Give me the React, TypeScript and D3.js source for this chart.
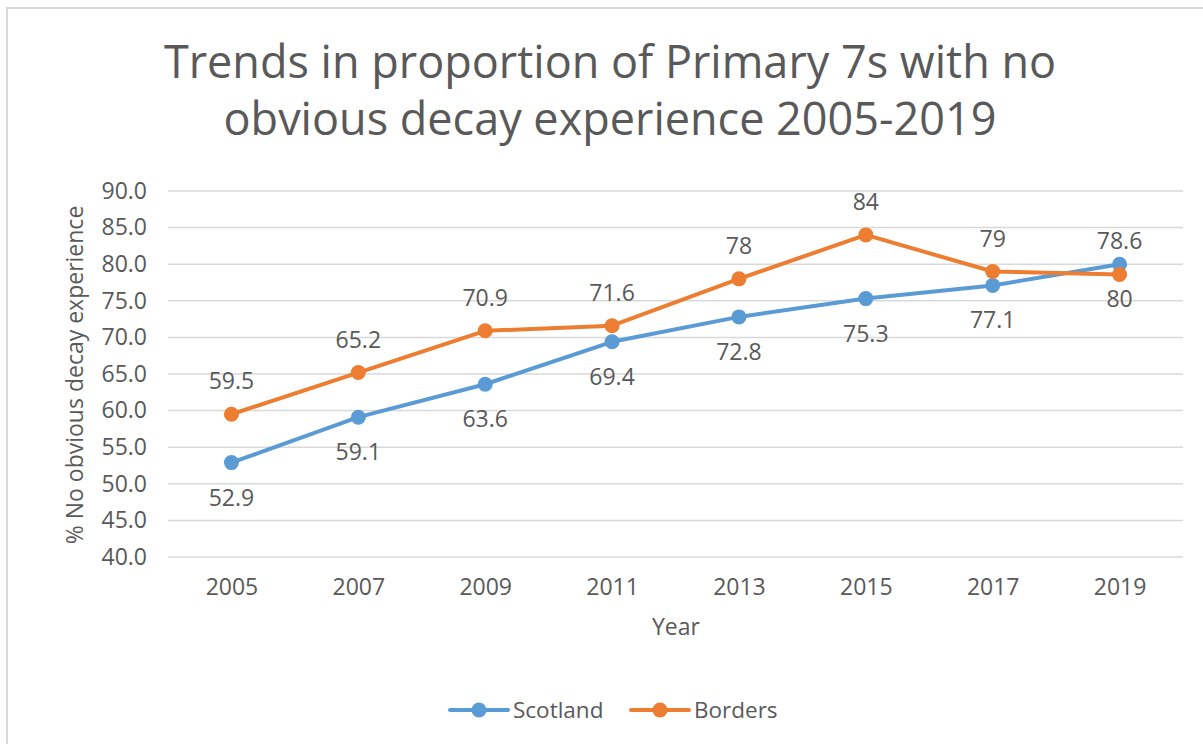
import React, { useEffect, useRef } from 'react';
import * as d3 from 'd3';

const years = ['2005', '2007', '2009', '2011', '2013', '2015', '2017', '2019'];
const scotland = [52.9, 59.1, 63.6, 69.4, 72.8, 75.3, 77.1, 80];
const borders = [59.5, 65.2, 70.9, 71.6, 78, 84, 79, 78.6];
const yTicks = [40, 45, 50, 55, 60, 65, 70, 75, 80, 85, 90];
const titleLines = [
  'Trends in proportion of Primary 7s with no',
  'obvious decay experience 2005-2019',
];

const FONT = '"Open Sans", "Noto Sans", sans-serif';
const TEXT = '#595959';

export default function App() {
  const ref = useRef<SVGSVGElement>(null);

  useEffect(() => {
    const svg = d3.select(ref.current);
    svg.selectAll('*').remove();

    const left = 168;
    const right = 1183;
    const top = 191;
    const bottom = 557;

    // chart frame (only top/left visible)
    svg
      .append('rect')
      .attr('x', 7)
      .attr('y', 8)
      .attr('width', 1250)
      .attr('height', 800)
      .attr('fill', 'white')
      .attr('stroke', '#d9d9d9')
      .attr('stroke-width', 2);

    const x = d3.scalePoint<string>().domain(years).range([left, right]).padding(0.5);
    const y = d3.scaleLinear().domain([40, 90]).range([bottom, top]);

    // title
    svg
      .append('g')
      .selectAll('text')
      .data(titleLines)
      .enter()
      .append('text')
      .attr('x', 610)
      .attr('y', (_, i) => 78 + i * 57)
      .attr('text-anchor', 'middle')
      .attr('font-family', FONT)
      .attr('font-size', 45)
      .attr('fill', TEXT)
      .text((d) => d);

    // gridlines
    svg
      .append('g')
      .selectAll('line')
      .data(yTicks)
      .enter()
      .append('line')
      .attr('x1', left)
      .attr('x2', right)
      .attr('y1', (d) => y(d))
      .attr('y2', (d) => y(d))
      .attr('stroke', '#d9d9d9')
      .attr('stroke-width', 1.5);

    // y axis
    const yAxis = svg
      .append('g')
      .attr('transform', `translate(${left - 21},0)`)
      .call(
        d3
          .axisLeft(y)
          .tickValues(yTicks)
          .tickSize(0)
          .tickPadding(0)
          .tickFormat((d) => (d as number).toFixed(1)),
      );
    yAxis.select('.domain').remove();
    yAxis
      .selectAll('text')
      .attr('font-family', FONT)
      .attr('font-size', 23)
      .attr('fill', TEXT);

    // x axis
    const xAxis = svg
      .append('g')
      .attr('transform', `translate(0,${bottom + 22})`)
      .call(d3.axisBottom(x).tickSize(0).tickPadding(0));
    xAxis.select('.domain').remove();
    xAxis
      .selectAll('text')
      .attr('font-family', FONT)
      .attr('font-size', 23)
      .attr('fill', TEXT);

    // axis titles
    svg
      .append('text')
      .attr('x', 676)
      .attr('y', 635)
      .attr('text-anchor', 'middle')
      .attr('font-family', FONT)
      .attr('font-size', 23)
      .attr('fill', TEXT)
      .text('Year');

    svg
      .append('text')
      .attr('transform', 'translate(83,375) rotate(-90)')
      .attr('text-anchor', 'middle')
      .attr('font-family', FONT)
      .attr('font-size', 23)
      .attr('fill', TEXT)
      .text('% No obvious decay experience');

    const series = [
      { name: 'Scotland', values: scotland, color: '#5B9BD5', dy: 43 },
      { name: 'Borders', values: borders, color: '#ED7D31', dy: -25 },
    ];

    const line = d3
      .line<number>()
      .x((_, i) => x(years[i])!)
      .y((d) => y(d));

    series.forEach((s) => {
      const g = svg.append('g');
      g.append('path')
        .datum(s.values)
        .attr('d', line)
        .attr('fill', 'none')
        .attr('stroke', s.color)
        .attr('stroke-width', 4)
        .attr('stroke-linejoin', 'round')
        .attr('stroke-linecap', 'round');
      g.selectAll('circle')
        .data(s.values)
        .enter()
        .append('circle')
        .attr('cx', (_, i) => x(years[i])!)
        .attr('cy', (d) => y(d))
        .attr('r', 7.5)
        .attr('fill', s.color);
    });

    series.forEach((s) => {
      svg
        .append('g')
        .selectAll('text')
        .data(s.values)
        .enter()
        .append('text')
        .attr('x', (_, i) => x(years[i])!)
        .attr('y', (d) => y(d) + s.dy)
        .attr('text-anchor', 'middle')
        .attr('font-family', FONT)
        .attr('font-size', 23)
        .attr('fill', TEXT)
        .text((d) => String(d));
    });

    // legend
    const legend = svg.append('g').attr('transform', 'translate(0,710)');
    const legendItems = [
      { name: 'Scotland', color: '#5B9BD5', x0: 450 },
      { name: 'Borders', color: '#ED7D31', x0: 631 },
    ];
    legendItems.forEach((it) => {
      legend
        .append('line')
        .attr('x1', it.x0)
        .attr('x2', it.x0 + 58)
        .attr('y1', 0)
        .attr('y2', 0)
        .attr('stroke', it.color)
        .attr('stroke-width', 4)
        .attr('stroke-linecap', 'round');
      legend
        .append('circle')
        .attr('cx', it.x0 + 29)
        .attr('cy', 0)
        .attr('r', 7.5)
        .attr('fill', it.color);
      legend
        .append('text')
        .attr('x', it.x0 + 63)
        .attr('y', 0)
        .attr('dy', '0.35em')
        .attr('font-family', FONT)
        .attr('font-size', 22.5)
        .attr('fill', TEXT)
        .text(it.name);
    });
  }, []);

  return (
    <svg
      ref={ref}
      width={1203}
      height={744}
      style={{ position: 'absolute', left: 0, top: 0, background: 'white' }}
    />
  );
}
